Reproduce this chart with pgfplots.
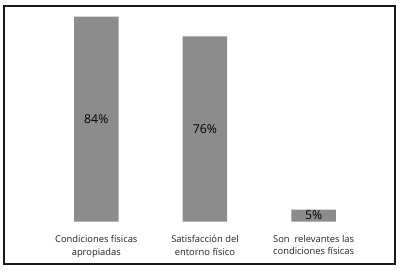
\documentclass[border=0pt]{standalone}
\usepackage{fontspec}
\setmainfont{Open Sans}
\usepackage{pgfplots}
\pgfplotsset{compat=1.18}
\definecolor{bargray}{RGB}{140,140,140}
\definecolor{txt}{RGB}{35,35,35}
\begin{document}
\begin{tikzpicture}
\begin{axis}[
  scale only axis,
  width=326bp, height=215.7bp,
  xmin=-0.5, xmax=2.5, ymin=0, ymax=88.4,
  axis line style={draw=none},
  ytick=\empty,
  xtick={0,1,2},
  xtick style={draw=none},
  major tick length=0pt,
  xticklabels={{Condiciones físicas\\apropiadas},{Satisfacción del\\entorno físico},{Son\ \ relevantes las\\condiciones físicas}},
  xticklabel style={font=\fontsize{9.4}{12.2}\selectfont, align=center, text=txt, yshift=-10.5bp},
  clip=false,
  ybar, bar width=44.5bp,
  point meta=explicit symbolic,
  nodes near coords,
  visualization depends on={y \as \rawy},
  every node near coord/.append style={anchor=center, font=\fontsize{12.3}{14}\selectfont, text=black, shift={(axis direction cs:0,-\rawy/2)}},
]
\addplot[fill=bargray, draw=none] coordinates {(0,84) [84\%] (1,76) [76\%] (2,5) [5\%]};
\coordinate (fsw) at (rel axis cs:0,0);
\end{axis}
\draw[line width=1.1bp, black!90] ([shift={(-37.95bp,-42.3bp)}]fsw) rectangle ++(391bp,258bp);
\path ([shift={(-41.95bp,-50.3bp)}]fsw) rectangle ++(405bp,272bp);
\end{tikzpicture}
\end{document}
